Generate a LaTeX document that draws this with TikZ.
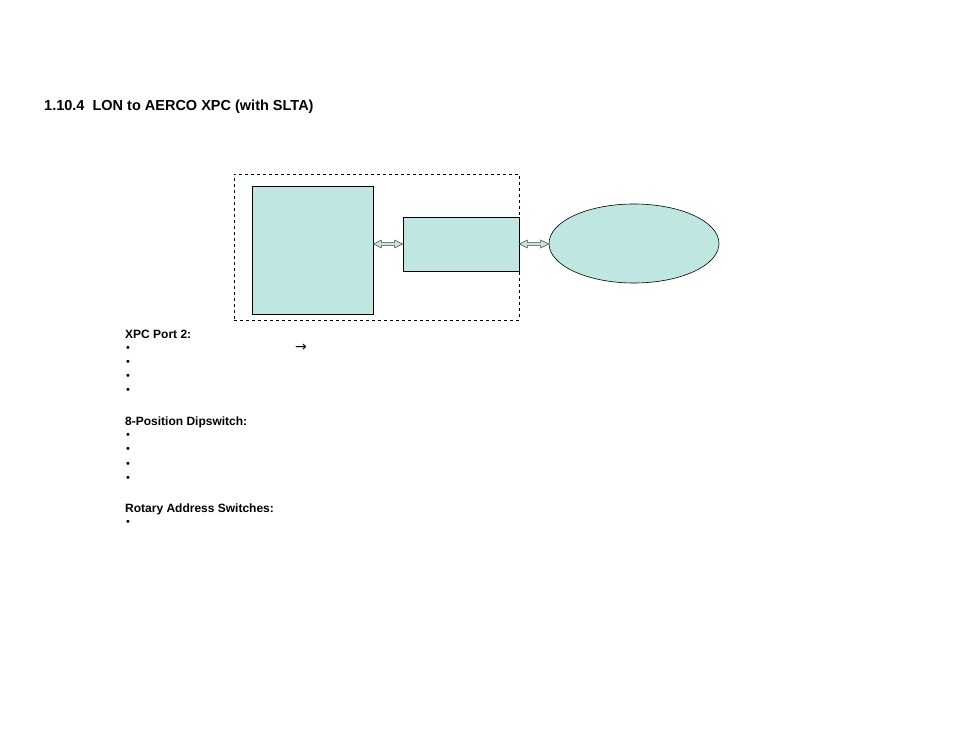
\documentclass[tikz,border=0pt]{standalone}
\usepackage{fontspec}
\setmainfont{Liberation Sans}
\newfontfamily\symfont{DejaVu Sans}
\usetikzlibrary{calc,shapes.geometric}
\definecolor{boxfill}{RGB}{191,230,225}
\definecolor{arrfill}{RGB}{200,228,224}
\tikzset{
  px/.style={x=1pt,y=-1pt},
  blockbox/.style={draw=black, line width=0.9pt, fill=boxfill, inner sep=0pt, minimum width=#1},
  headtxt/.style={anchor=west, inner sep=0pt, font=\bfseries\fontsize{12}{14}\selectfont},
  bullettxt/.style={anchor=center, inner sep=0pt, font=\fontsize{11}{12}\selectfont},
  dblarrow/.style={draw=black!70, line width=0.5pt, fill=arrfill}
}
\newcommand{\dblarr}[2]{%
  \path let \p1=(#1), \p2=(#2) in
    [dblarrow] (\x1,\y1) -- ++(8pt,4pt) -- ++(0,-2.5pt) -- (\x2-8pt,\y1+1.5pt) -- ++(0,2.5pt) -- (\x2,\y1) -- ++(-8pt,-4pt) -- ++(0,2.5pt) -- (\x1+8pt,\y1-1.5pt) -- ++(0,-2.5pt) -- cycle;}
\begin{document}
\begin{tikzpicture}[px]
\useasboundingbox (0,0) rectangle (954,738);
\node[headtxt, font=\bfseries\fontsize{14.5}{17}\selectfont] (title) at (44,106.5) {1.10.4\ \ LON to AERCO XPC (with SLTA)};
\node[draw=black, dashed, line width=0.7pt, minimum width=285pt, minimum height=146pt, inner sep=0pt] (frame) at (376.5,247) {};
\node[blockbox=121pt, minimum height=128pt] (left) at (312.5,250) {};
\node[blockbox=116pt, minimum height=54pt] (mid) at (461,244) {};
\node[draw=black, line width=0.6pt, fill=boxfill, ellipse, minimum width=170pt, minimum height=79pt, inner sep=0pt] (lon) at (634,243.5) {};
\coordinate (a1) at (left.east |- mid.west);
\coordinate (a2) at (mid.west);
\coordinate (b1) at (mid.east);
\coordinate (b2) at (lon.west);
\dblarr{a1}{a2}
\dblarr{b1}{b2}
\node[headtxt] (h1) at (125,334) {XPC Port 2:};
\node[bullettxt] (b11) at (128,349) {•};
\node[anchor=center, inner sep=0pt, font=\symfont\fontsize{14}{15}\selectfont] (arr) at (301,348) {→};
\node[bullettxt] (b12) at (128,363) {•};
\node[bullettxt] (b13) at (128,377) {•};
\node[bullettxt] (b14) at (128,391) {•};
\node[headtxt] (h2) at (125,422) {8-Position Dipswitch:};
\node[bullettxt] (b21) at (128,436) {•};
\node[bullettxt] (b22) at (128,450) {•};
\node[bullettxt] (b23) at (128,465) {•};
\node[bullettxt] (b24) at (128,479) {•};
\node[headtxt] (h3) at (125,509) {Rotary Address Switches:};
\node[bullettxt] (b31) at (128,523) {•};
\end{tikzpicture}
\end{document}
